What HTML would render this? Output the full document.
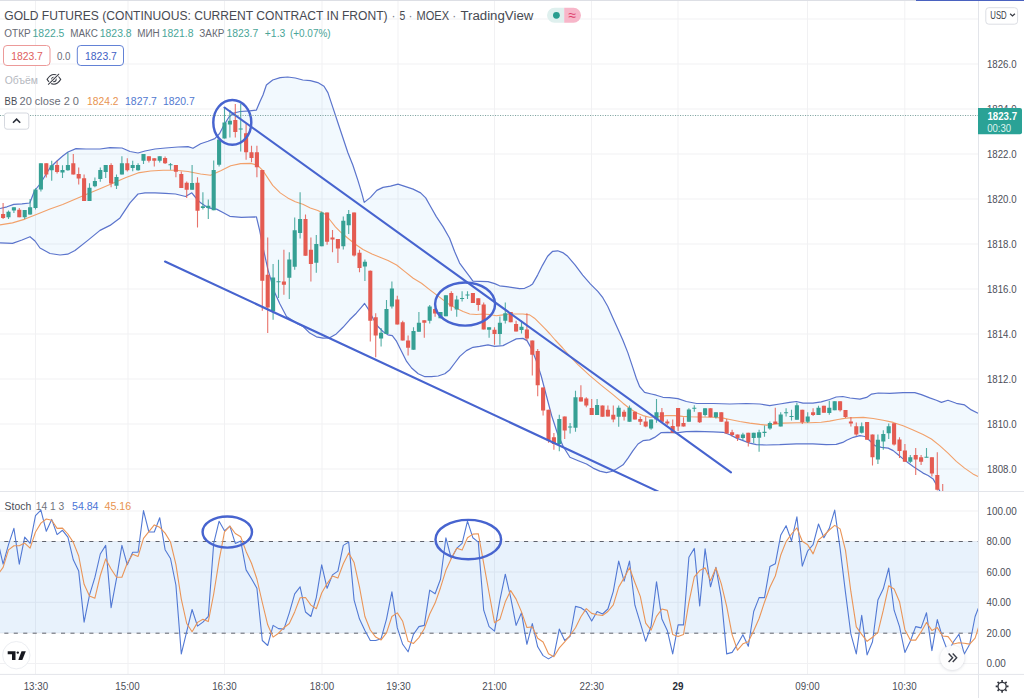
<!DOCTYPE html>
<html><head><meta charset="utf-8"><title>GOLD FUTURES chart</title>
<style>html,body{margin:0;padding:0;background:#fff}body{width:1024px;height:698px;overflow:hidden}</style></head>
<body>
<svg width="1024" height="698" viewBox="0 0 1024 698" style="display:block;font-family:'Liberation Sans',sans-serif">
<defs>
<clipPath id="cm"><rect x="0" y="0" width="978.5" height="491.5"/></clipPath>
<clipPath id="cs"><rect x="0" y="492" width="978.5" height="182.39999999999998"/></clipPath>
<filter id="sh" x="-50%" y="-50%" width="200%" height="200%"><feGaussianBlur stdDeviation="1.6"/></filter>
</defs>
<rect width="1024" height="698" fill="#fff"/>
<path d="M35.5 0V674.4M128 0V674.4M224.5 0V674.4M322 0V674.4M398 0V674.4M494.5 0V674.4M591.5 0V674.4M678 0V674.4M807.5 0V674.4M904.8 0V674.4M0 19H978.5M0 64H978.5M0 109H978.5M0 154H978.5M0 199H978.5M0 244H978.5M0 289H978.5M0 334H978.5M0 379H978.5M0 424H978.5M0 469H978.5M0 511H978.5M0 541.5H978.5M0 572H978.5M0 602.3H978.5M0 633H978.5M0 663.5H978.5" stroke="#f1f1f3" stroke-width="1" fill="none"/>
<g clip-path="url(#cm)">
<polygon points="0.0,208.5 7.0,206.8 13.8,204.4 22.0,203.8 29.8,203.0 34.4,191.0 40.0,184.0 50.0,167.7 57.0,161.0 62.7,156.0 68.0,152.0 76.0,148.6 86.0,149.0 100.0,149.0 110.0,147.6 122.0,148.0 130.0,151.5 138.0,153.0 145.0,151.0 155.0,149.0 165.5,148.0 178.0,147.0 188.0,146.6 193.0,148.3 200.6,143.8 208.0,141.3 214.8,138.6 219.6,133.5 224.0,125.0 229.0,117.0 234.0,113.0 240.0,111.5 249.7,110.8 256.4,110.1 260.0,101.5 263.0,95.0 266.4,85.0 272.7,80.0 280.2,77.6 287.7,77.0 295.3,78.0 302.8,80.0 310.3,80.6 317.8,82.6 324.0,86.3 327.9,92.6 332.9,107.6 337.9,122.7 342.9,137.7 347.9,152.8 352.9,165.3 357.9,180.4 361.7,192.9 364.2,202.4 370.5,197.4 376.8,190.4 383.0,187.4 390.5,186.1 398.0,184.1 405.6,186.6 413.1,189.1 420.6,192.9 425.7,197.9 430.7,206.7 436.3,216.6 443.0,226.6 449.6,238.2 454.6,251.5 459.6,263.1 464.6,269.8 469.5,276.4 472.9,281.2 479.7,281.3 488.0,281.6 494.7,283.6 499.6,285.8 506.3,286.6 512.9,287.6 519.6,288.7 524.6,288.3 529.6,286.0 532.6,283.9 537.6,275.1 542.6,265.1 547.6,256.3 552.7,251.3 557.7,250.8 562.7,252.6 567.7,256.3 575.2,265.1 582.7,275.1 590.3,283.9 597.8,291.4 602.8,297.7 607.8,306.5 612.8,317.7 617.9,329.0 622.9,340.3 627.9,352.9 632.9,367.9 636.3,378.2 639.6,386.5 644.6,392.3 651.3,394.0 656.3,395.2 662.9,397.3 669.5,397.6 677.9,398.6 686.4,401.5 696.6,403.5 713.2,403.5 729.9,404.0 746.5,403.5 759.8,404.0 769.7,405.7 779.7,404.0 789.7,402.3 796.3,401.5 803.0,403.2 812.9,403.2 821.2,401.8 829.6,399.5 836.2,397.0 842.8,396.5 850.0,398.0 859.9,399.1 866.6,397.4 871.6,394.1 878.2,393.0 889.8,393.3 903.1,392.6 914.8,392.6 921.4,394.6 929.7,397.9 936.4,400.3 941.4,402.4 948.0,400.3 956.3,403.3 964.6,404.9 971.3,409.9 978.0,413.2 978.0,520.0 950.0,505.0 940.5,492.5 937.2,486.3 933.1,478.9 928.1,475.5 923.1,473.1 918.1,469.7 913.1,466.4 908.1,462.8 903.1,458.9 898.2,454.8 893.2,450.6 888.2,448.1 881.5,447.3 874.9,445.6 869.9,440.7 864.9,436.5 859.9,435.7 853.3,437.3 846.6,440.2 842.8,442.4 836.2,444.4 826.2,444.7 812.9,443.9 796.3,443.9 779.7,444.7 766.4,445.0 756.4,444.7 749.8,443.1 743.1,440.6 736.5,438.1 729.9,434.7 723.2,432.3 713.2,431.8 696.2,431.3 686.2,431.7 676.2,432.9 667.9,432.4 661.3,432.6 654.6,437.4 649.6,439.9 643.0,440.7 638.0,444.0 633.0,450.7 628.0,458.2 623.1,464.8 616.4,469.0 611.4,471.5 606.4,472.6 599.8,471.1 593.1,468.1 586.5,464.0 578.2,460.7 569.9,457.3 563.2,446.5 557.4,433.2 551.6,415.5 546.6,396.5 541.2,376.0 536.2,360.5 531.2,348.1 527.0,340.6 522.9,338.4 516.3,338.9 509.6,342.3 503.0,345.6 494.7,346.4 488.0,344.8 479.7,346.4 473.0,347.3 466.4,350.6 459.8,356.4 454.8,363.0 449.8,369.7 444.8,373.8 438.2,376.0 431.5,376.7 424.9,376.7 418.2,373.8 411.6,368.0 406.6,361.4 401.6,351.4 396.6,341.4 392.3,335.6 387.9,334.8 382.9,331.5 377.9,326.5 372.9,318.2 368.8,309.8 364.6,303.5 361.3,307.4 356.3,313.2 349.6,319.8 343.0,327.3 336.3,333.9 329.7,337.8 323.0,338.1 316.4,336.8 309.8,333.1 303.1,326.5 296.5,323.1 286.5,316.5 279.8,303.8 274.7,292.5 268.0,269.8 263.9,251.5 259.7,230.7 256.4,216.9 241.4,217.4 229.8,216.3 222.0,212.0 216.5,209.1 208.0,207.8 200.6,202.8 196.0,198.0 191.8,192.8 185.6,196.5 175.5,194.0 165.5,193.3 155.0,192.8 145.0,192.8 138.0,194.0 130.0,202.8 120.0,217.9 110.0,225.4 100.0,230.4 87.8,240.4 75.0,250.5 67.7,254.2 60.0,255.0 50.0,253.5 40.0,248.0 35.0,241.0 30.0,236.7 22.0,240.0 12.5,243.4 0.0,242.9" fill="#2196f3" fill-opacity="0.06"/>
<polyline points="0.0,224.9 12.5,222.9 25.0,219.1 37.6,214.1 50.0,209.1 62.7,204.6 75.0,199.2 87.8,193.8 100.0,188.8 112.8,183.3 125.4,177.7 138.0,172.9 150.5,171.0 163.0,170.2 175.5,170.2 188.0,171.5 200.6,174.0 210.6,175.2 220.7,170.8 230.7,165.8 240.7,163.6 250.8,163.4 257.6,165.3 262.7,170.3 267.7,177.9 272.7,185.4 280.2,192.9 287.7,197.9 295.3,201.7 302.8,204.2 310.3,207.9 317.8,210.5 325.3,214.2 330.4,220.5 335.4,226.8 340.4,231.8 347.0,237.5 355.0,244.0 363.0,249.5 372.0,254.0 380.0,257.3 388.0,260.5 396.6,265.0 404.9,271.6 413.2,278.3 421.5,283.3 429.9,289.9 436.5,294.9 443.1,299.9 449.8,304.9 456.4,308.2 463.1,311.5 469.7,314.0 476.4,314.5 483.0,314.0 489.7,314.5 496.3,315.7 503.0,314.9 509.6,314.0 516.3,314.0 522.9,314.0 529.6,314.9 534.5,318.2 539.5,323.2 544.5,328.1 550.0,334.0 555.2,340.0 562.7,348.0 570.2,356.5 578.2,364.9 589.8,375.6 601.4,385.3 613.0,394.6 623.0,403.2 629.7,408.5 636.3,412.8 643.0,415.6 649.6,417.3 657.9,416.8 666.2,415.6 674.5,415.6 682.8,416.4 690.0,416.8 699.9,417.0 713.2,417.3 723.2,418.1 729.9,419.5 739.8,421.5 749.8,423.1 759.8,424.4 766.4,425.1 773.1,424.4 783.0,423.1 796.3,422.8 809.6,422.8 821.2,422.3 829.6,421.1 837.9,419.5 846.2,418.1 850.0,417.9 863.3,417.4 873.2,418.5 883.2,420.2 893.2,422.4 903.1,425.7 913.1,429.9 923.1,434.5 931.4,439.0 939.7,445.6 948.0,453.1 956.3,461.4 964.6,468.1 972.9,473.9 978.0,476.4" fill="none" stroke="#f2a16b" stroke-width="1.1" stroke-linejoin="round"/>
<polyline points="0.0,208.5 7.0,206.8 13.8,204.4 22.0,203.8 29.8,203.0 34.4,191.0 40.0,184.0 50.0,167.7 57.0,161.0 62.7,156.0 68.0,152.0 76.0,148.6 86.0,149.0 100.0,149.0 110.0,147.6 122.0,148.0 130.0,151.5 138.0,153.0 145.0,151.0 155.0,149.0 165.5,148.0 178.0,147.0 188.0,146.6 193.0,148.3 200.6,143.8 208.0,141.3 214.8,138.6 219.6,133.5 224.0,125.0 229.0,117.0 234.0,113.0 240.0,111.5 249.7,110.8 256.4,110.1 260.0,101.5 263.0,95.0 266.4,85.0 272.7,80.0 280.2,77.6 287.7,77.0 295.3,78.0 302.8,80.0 310.3,80.6 317.8,82.6 324.0,86.3 327.9,92.6 332.9,107.6 337.9,122.7 342.9,137.7 347.9,152.8 352.9,165.3 357.9,180.4 361.7,192.9 364.2,202.4 370.5,197.4 376.8,190.4 383.0,187.4 390.5,186.1 398.0,184.1 405.6,186.6 413.1,189.1 420.6,192.9 425.7,197.9 430.7,206.7 436.3,216.6 443.0,226.6 449.6,238.2 454.6,251.5 459.6,263.1 464.6,269.8 469.5,276.4 472.9,281.2 479.7,281.3 488.0,281.6 494.7,283.6 499.6,285.8 506.3,286.6 512.9,287.6 519.6,288.7 524.6,288.3 529.6,286.0 532.6,283.9 537.6,275.1 542.6,265.1 547.6,256.3 552.7,251.3 557.7,250.8 562.7,252.6 567.7,256.3 575.2,265.1 582.7,275.1 590.3,283.9 597.8,291.4 602.8,297.7 607.8,306.5 612.8,317.7 617.9,329.0 622.9,340.3 627.9,352.9 632.9,367.9 636.3,378.2 639.6,386.5 644.6,392.3 651.3,394.0 656.3,395.2 662.9,397.3 669.5,397.6 677.9,398.6 686.4,401.5 696.6,403.5 713.2,403.5 729.9,404.0 746.5,403.5 759.8,404.0 769.7,405.7 779.7,404.0 789.7,402.3 796.3,401.5 803.0,403.2 812.9,403.2 821.2,401.8 829.6,399.5 836.2,397.0 842.8,396.5 850.0,398.0 859.9,399.1 866.6,397.4 871.6,394.1 878.2,393.0 889.8,393.3 903.1,392.6 914.8,392.6 921.4,394.6 929.7,397.9 936.4,400.3 941.4,402.4 948.0,400.3 956.3,403.3 964.6,404.9 971.3,409.9 978.0,413.2" fill="none" stroke="#5b74cc" stroke-width="1.2" stroke-linejoin="round"/>
<polyline points="0.0,242.9 12.5,243.4 22.0,240.0 30.0,236.7 35.0,241.0 40.0,248.0 50.0,253.5 60.0,255.0 67.7,254.2 75.0,250.5 87.8,240.4 100.0,230.4 110.0,225.4 120.0,217.9 130.0,202.8 138.0,194.0 145.0,192.8 155.0,192.8 165.5,193.3 175.5,194.0 185.6,196.5 191.8,192.8 196.0,198.0 200.6,202.8 208.0,207.8 216.5,209.1 222.0,212.0 229.8,216.3 241.4,217.4 256.4,216.9 259.7,230.7 263.9,251.5 268.0,269.8 274.7,292.5 279.8,303.8 286.5,316.5 296.5,323.1 303.1,326.5 309.8,333.1 316.4,336.8 323.0,338.1 329.7,337.8 336.3,333.9 343.0,327.3 349.6,319.8 356.3,313.2 361.3,307.4 364.6,303.5 368.8,309.8 372.9,318.2 377.9,326.5 382.9,331.5 387.9,334.8 392.3,335.6 396.6,341.4 401.6,351.4 406.6,361.4 411.6,368.0 418.2,373.8 424.9,376.7 431.5,376.7 438.2,376.0 444.8,373.8 449.8,369.7 454.8,363.0 459.8,356.4 466.4,350.6 473.0,347.3 479.7,346.4 488.0,344.8 494.7,346.4 503.0,345.6 509.6,342.3 516.3,338.9 522.9,338.4 527.0,340.6 531.2,348.1 536.2,360.5 541.2,376.0 546.6,396.5 551.6,415.5 557.4,433.2 563.2,446.5 569.9,457.3 578.2,460.7 586.5,464.0 593.1,468.1 599.8,471.1 606.4,472.6 611.4,471.5 616.4,469.0 623.1,464.8 628.0,458.2 633.0,450.7 638.0,444.0 643.0,440.7 649.6,439.9 654.6,437.4 661.3,432.6 667.9,432.4 676.2,432.9 686.2,431.7 696.2,431.3 713.2,431.8 723.2,432.3 729.9,434.7 736.5,438.1 743.1,440.6 749.8,443.1 756.4,444.7 766.4,445.0 779.7,444.7 796.3,443.9 812.9,443.9 826.2,444.7 836.2,444.4 842.8,442.4 846.6,440.2 853.3,437.3 859.9,435.7 864.9,436.5 869.9,440.7 874.9,445.6 881.5,447.3 888.2,448.1 893.2,450.6 898.2,454.8 903.1,458.9 908.1,462.8 913.1,466.4 918.1,469.7 923.1,473.1 928.1,475.5 933.1,478.9 937.2,486.3 940.5,492.5 950.0,505.0 978.0,520.0" fill="none" stroke="#5b74cc" stroke-width="1.2" stroke-linejoin="round"/>
<path d="M8.5 210.6V218.9M13.9 207.3V213.1M24.7 210.1V218.9M30.1 199.0V214.7M35.5 188.2V209.4M40.9 163.2V191.5M51.7 160.7V180.7M62.5 165.2V177.9M67.9 152.4V170.7M89.5 183.2V201.1M94.9 177.4V187.3M100.3 167.4V181.8M105.7 164.9V177.9M116.5 174.5V189.0M121.9 156.3V174.5M132.7 160.7V171.2M138.1 163.2V170.7M143.5 154.1V164.1M159.7 156.3V162.4M170.5 163.1V169.8M192.1 165.1V189.7M202.9 192.2V209.6M208.3 199.4V219.1M213.7 160.6V210.3M219.1 139.5V166.5M224.5 107.5V138.5M229.9 110.0V137.4M240.7 104.1V151.5M273.1 264.0V319.8M278.5 259.8V298.0M289.3 252.3V298.9M294.7 217.4V269.8M300.1 192.2V238.5M316.3 234.9V272.8M321.7 211.6V246.2M343.3 216.6V249.5M348.7 209.9V234.0M364.9 259.5V281.1M381.1 328.1V346.4M386.5 299.9V334.0M391.9 281.6V308.5M413.5 327.3V349.7M418.9 311.9V331.8M429.7 304.9V323.5M440.5 311.9V318.2M445.9 295.2V316.2M456.7 295.7V316.8M462.1 291.3V301.6M467.5 291.3V299.1M489.1 327.3V337.8M499.9 316.5V344.8M505.3 302.4V323.5M521.5 320.7V333.5M559.3 414.8V451.3M570.1 423.1V433.4M575.5 390.7V431.7M597.1 399.0V415.1M618.7 405.6V426.7M629.5 405.6V421.8M651.1 419.4V429.7M656.5 399.0V422.8M688.9 408.2V421.8M694.3 405.2V411.8M705.1 408.2V416.5M715.9 412.3V418.5M742.9 432.8V440.1M753.7 432.8V443.1M759.1 429.8V451.7M764.5 425.6V436.7M769.9 421.5V429.8M780.7 412.3V426.4M786.1 408.2V416.5M791.5 409.8V420.6M796.9 402.8V419.8M807.7 412.3V423.1M818.5 405.7V415.1M829.3 400.7V414.8M834.7 401.2V410.2M861.7 422.4V433.5M877.9 434.5V463.9M883.3 430.2V449.8M888.7 423.5V439.0M910.3 455.1V463.1M926.5 448.1V457.6" stroke="#36a094" stroke-width="1.1" stroke-opacity="0.85" fill="none"/>
<path d="M3.1 203.1V218.9M19.3 208.1V217.2M46.3 163.2V177.4M57.1 160.7V173.5M73.3 154.1V174.5M78.7 167.4V184.5M84.1 174.5V201.1M111.1 163.2V187.3M127.3 158.2V171.5M148.9 156.3V162.4M154.3 158.2V166.6M165.1 156.6V164.1M175.9 165.1V177.3M181.3 171.4V188.1M186.7 181.4V198.0M197.5 177.3V227.4M235.3 104.1V137.4M246.1 124.1V159.8M251.5 145.7V162.3M256.9 145.7V177.3M262.3 170.1V310.7M267.7 237.4V333.1M283.9 249.8V294.7M305.5 214.6V255.7M310.9 237.4V281.4M327.1 212.4V244.8M332.5 229.9V252.3M337.9 239.0V263.1M354.1 212.4V256.5M359.5 249.8V272.3M370.3 270.6V341.4M375.7 313.2V357.2M397.3 295.7V324.5M402.7 320.7V340.6M408.1 335.6V355.6M424.3 320.2V337.8M435.1 308.5V316.8M451.3 291.3V310.7M472.9 292.9V302.9M478.3 298.2V310.7M483.7 302.4V329.5M494.5 327.3V344.8M510.7 311.9V322.3M516.1 320.7V331.5M526.9 313.2V340.6M532.3 340.6V375.5M537.7 348.9V396.2M543.1 387.4V415.6M548.5 409.8V442.7M553.9 433.1V449.7M564.7 416.4V438.9M580.9 385.2V401.5M586.3 397.3V407.3M591.7 399.0V415.1M602.5 405.6V416.8M607.9 405.6V416.4M613.3 405.6V422.3M624.1 409.8V420.6M634.9 411.8V419.4M640.3 416.4V425.1M645.7 416.8V427.2M661.9 408.1V421.8M667.3 419.4V425.1M672.7 419.4V432.7M678.1 408.1V431.1M683.5 417.3V426.4M699.7 412.3V423.1M710.5 408.2V417.3M721.3 412.3V421.8M726.7 419.0V433.4M732.1 429.8V436.4M737.5 434.4V441.1M748.3 432.8V446.4M775.3 407.8V423.9M802.3 409.8V423.9M813.1 408.2V416.1M823.9 405.7V412.8M840.1 401.2V411.5M845.5 409.9V417.9M850.9 416.9V426.5M856.3 422.4V435.7M867.1 421.9V439.8M872.5 434.5V465.6M894.1 423.2V445.6M899.5 437.3V458.1M904.9 444.0V461.8M915.7 448.1V475.0M921.1 455.1V465.1M931.9 457.3V476.4M937.3 452.3V490.5M942.7 484.0V500.0" stroke="#e45b51" stroke-width="1.1" stroke-opacity="0.85" fill="none"/>
<path d="M6.45 211.8h4.1V217.2h-4.1zM11.85 207.3h4.1V210.6h-4.1zM22.65 210.1h4.1V217.2h-4.1zM28.05 207.3h4.1V214.4h-4.1zM33.45 189.5h4.1V208.1h-4.1zM38.85 163.2h4.1V189.5h-4.1zM49.65 165.2h4.1V170.2h-4.1zM60.45 169.9h4.1V172.4h-4.1zM65.85 164.9h4.1V170.2h-4.1zM87.45 187.8h4.1V201.1h-4.1zM92.85 181.0h4.1V186.2h-4.1zM98.25 169.9h4.1V179.0h-4.1zM103.65 164.9h4.1V171.9h-4.1zM114.45 176.9h4.1V185.7h-4.1zM119.85 163.2h4.1V174.5h-4.1zM130.65 164.9h4.1V167.9h-4.1zM136.05 164.9h4.1V170.2h-4.1zM141.45 154.1h4.1V160.7h-4.1zM157.65 156.3h4.1V160.7h-4.1zM168.45 164.3h4.1V165.3h-4.1zM190.05 183.1h4.1V189.7h-4.1zM200.85 206.3h4.1V208.0h-4.1zM206.25 205.8h4.1V208.0h-4.1zM211.65 170.1h4.1V210.3h-4.1zM217.05 139.5h4.1V164.8h-4.1zM222.45 122.4h4.1V138.5h-4.1zM227.85 120.8h4.1V124.6h-4.1zM238.65 128.6h4.1V129.6h-4.1zM271.05 277.4h4.1V311.5h-4.1zM276.45 281.3h4.1V282.3h-4.1zM287.25 259.5h4.1V277.8h-4.1zM292.65 230.2h4.1V266.8h-4.1zM298.05 219.1h4.1V232.9h-4.1zM314.25 244.0h4.1V262.8h-4.1zM319.65 212.4h4.1V246.2h-4.1zM341.25 220.7h4.1V246.2h-4.1zM346.65 214.1h4.1V225.2h-4.1zM362.85 261.8h4.1V266.4h-4.1zM379.05 332.8h4.1V338.4h-4.1zM384.45 309.0h4.1V334.0h-4.1zM389.85 288.6h4.1V306.5h-4.1zM411.45 331.1h4.1V349.7h-4.1zM416.85 322.8h4.1V331.8h-4.1zM427.65 306.5h4.1V320.7h-4.1zM438.45 311.9h4.1V318.2h-4.1zM443.85 295.2h4.1V316.2h-4.1zM454.65 299.6h4.1V309.5h-4.1zM460.05 297.9h4.1V299.1h-4.1zM465.45 294.6h4.1V295.6h-4.1zM487.05 327.3h4.1V329.8h-4.1zM497.85 322.8h4.1V334.0h-4.1zM503.25 313.2h4.1V320.7h-4.1zM519.45 326.8h4.1V330.1h-4.1zM557.25 418.9h4.1V443.9h-4.1zM568.05 426.4h4.1V427.4h-4.1zM573.45 397.3h4.1V427.7h-4.1zM595.05 405.1h4.1V415.1h-4.1zM616.65 407.8h4.1V416.8h-4.1zM627.45 407.8h4.1V421.8h-4.1zM649.05 419.4h4.1V428.4h-4.1zM654.45 412.3h4.1V419.4h-4.1zM686.85 409.5h4.1V421.8h-4.1zM692.25 407.8h4.1V408.8h-4.1zM703.05 408.2h4.1V415.1h-4.1zM713.85 412.3h4.1V417.3h-4.1zM740.85 434.4h4.1V438.1h-4.1zM751.65 432.8h4.1V438.1h-4.1zM757.05 432.3h4.1V437.7h-4.1zM762.45 431.8h4.1V433.1h-4.1zM767.85 423.1h4.1V428.4h-4.1zM778.65 414.5h4.1V426.4h-4.1zM784.05 412.3h4.1V413.3h-4.1zM789.45 416.1h4.1V417.1h-4.1zM794.85 405.2h4.1V419.8h-4.1zM805.65 416.5h4.1V421.8h-4.1zM816.45 407.8h4.1V415.1h-4.1zM827.25 407.8h4.1V413.1h-4.1zM832.65 401.2h4.1V410.2h-4.1zM859.65 426.2h4.1V432.8h-4.1zM875.85 439.8h4.1V459.4h-4.1zM881.25 434.0h4.1V441.5h-4.1zM886.65 426.2h4.1V433.2h-4.1zM908.25 457.3h4.1V461.8h-4.1zM924.45 456.7h4.1V457.7h-4.1z" fill="#36a094"/>
<path d="M1.05 213.9h4.1V218.1h-4.1zM17.25 209.8h4.1V217.2h-4.1zM44.25 163.2h4.1V174.5h-4.1zM55.05 164.9h4.1V171.9h-4.1zM71.25 163.2h4.1V174.5h-4.1zM76.65 174.0h4.1V178.5h-4.1zM82.05 178.2h4.1V201.1h-4.1zM109.05 164.9h4.1V183.5h-4.1zM125.25 163.2h4.1V170.2h-4.1zM146.85 156.3h4.1V160.7h-4.1zM152.25 158.2h4.1V160.7h-4.1zM163.05 157.9h4.1V163.2h-4.1zM173.85 165.1h4.1V171.8h-4.1zM179.25 173.9h4.1V188.1h-4.1zM184.65 182.7h4.1V189.7h-4.1zM195.45 182.7h4.1V210.8h-4.1zM233.25 119.9h4.1V131.9h-4.1zM244.05 133.2h4.1V152.3h-4.1zM249.45 152.3h4.1V158.1h-4.1zM254.85 152.3h4.1V167.3h-4.1zM260.25 170.1h4.1V280.8h-4.1zM265.65 274.8h4.1V307.4h-4.1zM281.85 281.4h4.1V284.7h-4.1zM303.45 219.1h4.1V255.7h-4.1zM308.85 249.8h4.1V264.0h-4.1zM325.05 212.4h4.1V241.8h-4.1zM330.45 237.4h4.1V239.4h-4.1zM335.85 239.0h4.1V248.5h-4.1zM352.05 212.4h4.1V255.6h-4.1zM357.45 252.8h4.1V268.1h-4.1zM368.25 270.8h4.1V320.7h-4.1zM373.65 317.3h4.1V335.6h-4.1zM395.25 299.6h4.1V324.5h-4.1zM400.65 322.3h4.1V340.6h-4.1zM406.05 340.6h4.1V347.8h-4.1zM422.25 320.2h4.1V322.8h-4.1zM433.05 309.0h4.1V313.5h-4.1zM449.25 292.9h4.1V306.5h-4.1zM470.85 292.9h4.1V302.9h-4.1zM476.25 298.2h4.1V304.9h-4.1zM481.65 304.5h4.1V329.5h-4.1zM492.45 329.8h4.1V334.0h-4.1zM508.65 311.9h4.1V322.3h-4.1zM514.05 324.0h4.1V331.5h-4.1zM524.85 329.5h4.1V338.4h-4.1zM530.25 340.6h4.1V354.7h-4.1zM535.65 351.0h4.1V385.2h-4.1zM541.05 387.4h4.1V410.6h-4.1zM546.45 409.8h4.1V440.5h-4.1zM551.85 437.2h4.1V443.9h-4.1zM562.65 416.4h4.1V430.6h-4.1zM578.85 397.3h4.1V401.5h-4.1zM584.25 398.5h4.1V405.6h-4.1zM589.65 408.1h4.1V415.1h-4.1zM600.45 405.6h4.1V416.8h-4.1zM605.85 409.8h4.1V416.4h-4.1zM611.25 414.8h4.1V419.4h-4.1zM622.05 411.8h4.1V416.8h-4.1zM632.85 411.8h4.1V419.4h-4.1zM638.25 418.9h4.1V421.8h-4.1zM643.65 421.4h4.1V426.4h-4.1zM659.85 412.3h4.1V421.8h-4.1zM665.25 421.4h4.1V423.4h-4.1zM670.65 426.1h4.1V432.7h-4.1zM676.05 408.1h4.1V426.4h-4.1zM681.45 423.1h4.1V426.4h-4.1zM697.65 412.3h4.1V422.3h-4.1zM708.45 408.2h4.1V417.3h-4.1zM719.25 412.3h4.1V421.8h-4.1zM724.65 421.5h4.1V433.4h-4.1zM730.05 432.3h4.1V435.1h-4.1zM735.45 434.4h4.1V438.1h-4.1zM746.25 432.8h4.1V442.2h-4.1zM773.25 421.5h4.1V423.9h-4.1zM800.25 409.8h4.1V422.3h-4.1zM811.05 412.3h4.1V415.1h-4.1zM821.85 405.7h4.1V412.8h-4.1zM838.05 401.2h4.1V410.2h-4.1zM843.45 409.9h4.1V416.9h-4.1zM848.85 421.5h4.1V423.5h-4.1zM854.25 426.2h4.1V434.5h-4.1zM865.05 421.9h4.1V439.8h-4.1zM870.45 434.5h4.1V457.3h-4.1zM892.05 423.2h4.1V444.5h-4.1zM897.45 439.5h4.1V451.1h-4.1zM902.85 450.6h4.1V461.8h-4.1zM913.65 455.1h4.1V459.4h-4.1zM919.05 457.3h4.1V461.8h-4.1zM929.85 457.3h4.1V473.4h-4.1zM935.25 475.0h4.1V489.7h-4.1zM940.65 499.5h4.1V500.5h-4.1z" fill="#e45b51"/>
<g fill="none" stroke="#4764cf" stroke-width="2.1" stroke-linecap="round">
<line x1="224.5" y1="107.5" x2="731" y2="472.3"/>
<line x1="165" y1="261.5" x2="660" y2="492.4"/>
<ellipse cx="232.3" cy="122.4" rx="19" ry="22.4" stroke-width="2.45"/>
<ellipse cx="465.1" cy="304" rx="30" ry="21.6" stroke-width="2.45"/>
</g>
</g>
<line x1="0" y1="115.5" x2="978.5" y2="115.5" stroke="#5f8f8a" stroke-opacity="0.8" stroke-width="1" stroke-dasharray="1.1 1.4"/>
<g clip-path="url(#cs)">
<rect x="0" y="541.5" width="978.5" height="91.6" fill="#1f80e2" fill-opacity="0.10"/>
<path d="M0 541.5H978.5M0 633.2H978.5" stroke="#60636d" stroke-width="1" stroke-dasharray="4.1 5.35" stroke-dashoffset="5.15" fill="none"/>
<polyline points="-2.3,540.9 3.1,564.1 8.5,544.7 13.9,528.3 19.3,564.1 24.7,537.1 30.1,543.4 35.5,515.7 40.9,510.1 46.3,531.3 51.7,519.4 57.1,534.6 62.5,530.3 67.9,537.1 73.3,559.8 78.7,571.1 84.1,622.1 89.5,595.1 94.9,577.4 100.3,554.0 105.7,545.4 111.1,607.7 116.5,578.7 121.9,545.4 127.3,564.8 132.7,552.2 138.1,552.2 143.5,510.6 148.9,532.0 154.3,532.0 159.7,517.7 165.1,549.7 170.5,558.5 175.9,585.0 181.3,653.9 186.7,631.7 192.1,609.5 197.5,626.1 202.9,622.1 208.3,616.5 213.7,543.4 219.1,521.2 224.5,530.8 229.9,526.2 235.3,543.4 240.7,540.9 246.1,569.9 251.5,578.7 256.9,588.3 262.3,640.5 267.7,645.5 273.1,625.4 278.5,628.6 283.9,629.1 289.3,612.8 294.7,593.8 300.1,586.8 305.5,612.0 310.9,616.5 316.3,597.6 321.7,564.8 327.1,588.3 332.5,574.9 337.9,571.1 343.3,545.4 348.7,542.1 354.1,600.1 359.5,619.1 364.9,630.4 370.3,640.5 375.7,640.5 381.1,638.7 386.5,619.1 391.9,591.8 397.3,627.9 402.7,644.3 408.1,651.8 413.5,634.2 418.9,626.6 424.3,625.4 429.7,590.1 435.1,593.8 440.5,579.2 445.9,537.8 451.3,558.5 456.7,548.4 462.1,543.4 467.5,521.2 472.9,537.8 478.3,542.1 483.7,610.2 489.1,626.6 494.5,631.2 499.9,600.1 505.3,574.2 510.7,597.6 516.1,625.4 521.5,612.8 526.9,644.3 532.3,623.6 537.7,646.8 543.1,655.6 548.5,658.9 553.9,655.6 559.3,629.1 564.7,640.5 570.1,636.2 575.5,606.4 580.9,607.7 586.3,611.5 591.7,621.1 597.1,611.5 602.5,614.0 607.9,609.0 613.3,591.3 618.7,561.1 624.1,581.2 629.5,561.1 634.9,605.2 640.3,622.8 645.7,641.3 651.1,626.1 656.5,581.7 661.9,619.1 667.3,630.4 672.7,653.9 678.1,624.9 683.5,624.9 688.9,557.3 694.3,548.4 699.7,605.9 705.1,548.9 710.5,586.8 715.9,567.4 721.3,597.6 726.7,653.9 732.1,652.4 737.5,644.3 742.9,634.7 748.3,646.3 753.7,611.5 759.1,597.6 764.5,597.6 769.9,566.6 775.3,563.8 780.7,535.3 786.1,525.7 791.5,540.9 796.9,516.9 802.3,566.1 807.7,551.0 813.1,544.7 818.5,524.0 823.9,537.8 829.3,528.3 834.7,510.1 840.1,548.4 845.5,592.6 850.9,634.2 856.3,653.9 861.7,615.3 867.1,654.9 872.5,641.8 877.9,600.1 883.3,588.8 888.7,568.1 894.1,610.2 899.5,626.6 904.9,652.4 910.3,641.3 915.7,626.6 921.1,627.9 926.5,612.8 931.9,650.6 937.3,619.6 942.7,638.0 948.1,652.4 953.5,641.8 958.9,634.2 964.3,653.9 969.7,644.3 975.1,616.5 980.5,602.7" fill="none" stroke="#5279d4" stroke-width="1.1" stroke-linejoin="round"/>
<polyline points="-2.3,574.8 3.1,567.4 8.5,549.9 13.9,545.7 19.3,545.7 24.7,543.1 30.1,548.2 35.5,532.0 40.9,523.1 46.3,519.0 51.7,520.3 57.1,528.4 62.5,528.1 67.9,534.0 73.3,542.4 78.7,556.0 84.1,584.3 89.5,596.1 94.9,598.2 100.3,575.5 105.7,558.9 111.1,569.0 116.5,577.3 121.9,577.3 127.3,563.0 132.7,554.2 138.1,556.4 143.5,538.4 148.9,531.6 154.3,524.9 159.7,527.3 165.1,533.1 170.5,542.0 175.9,564.4 181.3,599.1 186.7,623.5 192.1,631.7 197.5,622.4 202.9,619.2 208.3,621.6 213.7,594.0 219.1,560.4 224.5,531.8 229.9,526.1 235.3,533.5 240.7,536.8 246.1,551.4 251.5,563.2 256.9,579.0 262.3,602.5 267.7,624.8 273.1,637.1 278.5,633.2 283.9,627.7 289.3,623.5 294.7,611.9 300.1,597.8 305.5,597.5 310.9,605.1 316.3,608.7 321.7,593.0 327.1,583.6 332.5,576.0 337.9,578.1 343.3,563.8 348.7,552.9 354.1,562.6 359.5,587.1 364.9,616.5 370.3,630.0 375.7,637.1 381.1,639.9 386.5,632.8 391.9,616.5 397.3,612.9 402.7,621.3 408.1,641.3 413.5,643.4 418.9,637.6 424.3,628.7 429.7,614.0 435.1,603.1 440.5,587.7 445.9,570.3 451.3,558.5 456.7,548.3 462.1,550.1 467.5,537.7 472.9,534.1 478.3,533.7 483.7,563.4 489.1,593.0 494.5,622.7 499.9,619.3 505.3,601.8 510.7,590.6 516.1,599.1 521.5,611.9 526.9,627.5 532.3,626.9 537.7,638.2 543.1,642.0 548.5,653.8 553.9,656.7 559.3,647.9 564.7,641.8 570.1,635.3 575.5,627.7 580.9,616.8 586.3,608.6 591.7,613.4 597.1,614.7 602.5,615.5 607.9,611.5 613.3,604.8 618.7,587.1 624.1,577.9 629.5,567.8 634.9,582.5 640.3,596.4 645.7,623.1 651.1,630.1 656.5,616.4 661.9,609.0 667.3,610.4 672.7,634.4 678.1,636.4 683.5,634.5 688.9,602.3 694.3,576.9 699.7,570.6 705.1,567.8 710.5,580.6 715.9,567.7 721.3,583.9 726.7,606.3 732.1,634.6 737.5,650.2 742.9,643.8 748.3,641.8 753.7,630.8 759.1,618.5 764.5,602.2 769.9,587.3 775.3,576.0 780.7,555.3 786.1,541.6 791.5,534.0 796.9,527.8 802.3,541.3 807.7,544.7 813.1,553.9 818.5,539.9 823.9,535.5 829.3,530.0 834.7,525.4 840.1,528.9 845.5,550.4 850.9,591.7 856.3,626.9 861.7,634.4 867.1,641.3 872.5,637.3 877.9,632.3 883.3,610.2 888.7,585.7 894.1,589.0 899.5,601.7 904.9,629.7 910.3,640.1 915.7,640.1 921.1,631.9 926.5,622.4 931.9,630.4 937.3,627.6 942.7,636.0 948.1,636.6 953.5,644.0 958.9,642.8 964.3,643.3 969.7,644.1 975.1,638.2 980.5,621.2" fill="none" stroke="#ea9558" stroke-width="1.1" stroke-linejoin="round"/>
<g fill="none" stroke="#4764cf" stroke-width="2.45">
<ellipse cx="227.3" cy="532" rx="24.7" ry="15.6"/>
<ellipse cx="468.3" cy="539.6" rx="32.8" ry="19.7"/>
</g>
</g>
<path d="M0 491.5H1024M0 674.4H1024M978.5 0V698" stroke="#e3e5ea" stroke-width="1" fill="none"/>
<rect x="0" y="0" width="1024" height="1.0" fill="#dddfe5"/>
<rect x="916" y="0" width="108" height="1.0" fill="#4a62c0"/>
<text x="987" y="67.7" font-size="10.3" fill="#4b4e58" textLength="29.5" lengthAdjust="spacingAndGlyphs">1826.0</text>
<text x="987" y="112.7" font-size="10.3" fill="#4b4e58" textLength="29.5" lengthAdjust="spacingAndGlyphs">1824.0</text>
<text x="987" y="157.7" font-size="10.3" fill="#4b4e58" textLength="29.5" lengthAdjust="spacingAndGlyphs">1822.0</text>
<text x="987" y="202.7" font-size="10.3" fill="#4b4e58" textLength="29.5" lengthAdjust="spacingAndGlyphs">1820.0</text>
<text x="987" y="247.7" font-size="10.3" fill="#4b4e58" textLength="29.5" lengthAdjust="spacingAndGlyphs">1818.0</text>
<text x="987" y="292.7" font-size="10.3" fill="#4b4e58" textLength="29.5" lengthAdjust="spacingAndGlyphs">1816.0</text>
<text x="987" y="337.7" font-size="10.3" fill="#4b4e58" textLength="29.5" lengthAdjust="spacingAndGlyphs">1814.0</text>
<text x="987" y="382.7" font-size="10.3" fill="#4b4e58" textLength="29.5" lengthAdjust="spacingAndGlyphs">1812.0</text>
<text x="987" y="427.7" font-size="10.3" fill="#4b4e58" textLength="29.5" lengthAdjust="spacingAndGlyphs">1810.0</text>
<text x="987" y="472.7" font-size="10.3" fill="#4b4e58" textLength="29.5" lengthAdjust="spacingAndGlyphs">1808.0</text>
<text x="986.5" y="514.6" font-size="10.3" fill="#4b4e58" textLength="30.2" lengthAdjust="spacingAndGlyphs">100.00</text>
<text x="986.5" y="545.1400000000001" font-size="10.3" fill="#4b4e58" textLength="24.3" lengthAdjust="spacingAndGlyphs">80.00</text>
<text x="986.5" y="575.6800000000001" font-size="10.3" fill="#4b4e58" textLength="24.3" lengthAdjust="spacingAndGlyphs">60.00</text>
<text x="986.5" y="606.22" font-size="10.3" fill="#4b4e58" textLength="24.3" lengthAdjust="spacingAndGlyphs">40.00</text>
<text x="986.5" y="636.7600000000001" font-size="10.3" fill="#4b4e58" textLength="24.3" lengthAdjust="spacingAndGlyphs">20.00</text>
<text x="986.5" y="667.3000000000001" font-size="10.3" fill="#4b4e58" textLength="19.3" lengthAdjust="spacingAndGlyphs">0.00</text>
<text x="23.7" y="689.6" font-size="10.3" fill="#4b4e58" textLength="24.4" lengthAdjust="spacingAndGlyphs">13:30</text>
<text x="115.3" y="689.6" font-size="10.3" fill="#4b4e58" textLength="24.4" lengthAdjust="spacingAndGlyphs">15:00</text>
<text x="212.20000000000002" y="689.6" font-size="10.3" fill="#4b4e58" textLength="24.4" lengthAdjust="spacingAndGlyphs">16:30</text>
<text x="309.8" y="689.6" font-size="10.3" fill="#4b4e58" textLength="24.4" lengthAdjust="spacingAndGlyphs">18:00</text>
<text x="386.3" y="689.6" font-size="10.3" fill="#4b4e58" textLength="24.4" lengthAdjust="spacingAndGlyphs">19:30</text>
<text x="482.3" y="689.6" font-size="10.3" fill="#4b4e58" textLength="24.4" lengthAdjust="spacingAndGlyphs">21:00</text>
<text x="579.5999999999999" y="689.6" font-size="10.3" fill="#4b4e58" textLength="24.4" lengthAdjust="spacingAndGlyphs">22:30</text>
<text x="795.3" y="689.6" font-size="10.3" fill="#4b4e58" textLength="24.4" lengthAdjust="spacingAndGlyphs">09:00</text>
<text x="892.3" y="689.6" font-size="10.3" fill="#4b4e58" textLength="24.4" lengthAdjust="spacingAndGlyphs">10:30</text>
<text x="672.6" y="689.6" font-size="10.3" fill="#2a2e39" textLength="11" lengthAdjust="spacingAndGlyphs" font-weight="bold">29</text>
<path d="M978.0 108H1020a2 2 0 0 1 2 2V132.300a2 2 0 0 1 -2 2H978.0z" fill="#2aa296"/>
<text x="987.5" y="119.8" font-size="10.3" fill="#fff" textLength="29.5" lengthAdjust="spacingAndGlyphs" font-weight="bold">1823.7</text>
<text x="987.2" y="131.6" font-size="10.3" fill="#dcf3ef" textLength="24" lengthAdjust="spacingAndGlyphs">00:30</text>
<rect x="985.8" y="7.7" width="31.8" height="16.5" rx="3" fill="#fff" stroke="#dcdee4" stroke-width="1"/>
<text x="990.3" y="18.7" font-size="10.6" fill="#3a3d46" textLength="16.4" lengthAdjust="spacingAndGlyphs">USD</text>
<path d="M1010.100 13.700l2.400 2.200l2.400 -2.200" fill="none" stroke="#3a3d46" stroke-width="1.300"/>
<text x="4.3" y="20.1" font-size="12" fill="#474a52" textLength="383.3" lengthAdjust="spacingAndGlyphs">GOLD FUTURES (CONTINUOUS: CURRENT CONTRACT IN FRONT)</text>
<text x="391.6" y="20.1" font-size="12" fill="#787b86">·</text>
<text x="399.4" y="20.1" font-size="12" fill="#474a52" textLength="5.8" lengthAdjust="spacingAndGlyphs">5</text>
<text x="408.4" y="20.1" font-size="12" fill="#787b86">·</text>
<text x="416.5" y="20.1" font-size="12" fill="#474a52" textLength="32.5" lengthAdjust="spacingAndGlyphs">MOEX</text>
<text x="452.2" y="20.1" font-size="12" fill="#787b86">·</text>
<text x="460.4" y="20.1" font-size="12" fill="#474a52" textLength="73" lengthAdjust="spacingAndGlyphs">TradingView</text>
<path d="M554.5 7.8H564.2V22.8H554.5a7.5 7.5 0 0 1 0 -15z" fill="#dff0ee"/>
<path d="M564.2 7.8H573.5a7.5 7.5 0 0 1 0 15H564.2z" fill="#f7b6c9"/>
<circle cx="556.4" cy="15.3" r="3.4" fill="#2a9d8f"/>
<text x="572.3" y="20.2" font-size="14" fill="#dd3f6b" text-anchor="middle">≈</text>
<text x="4.3" y="36.9" font-size="10" fill="#666973" textLength="26.3" lengthAdjust="spacingAndGlyphs">ОТКР</text>
<text x="32.6" y="36.9" font-size="10.3" fill="#4aa598" textLength="31.8" lengthAdjust="spacingAndGlyphs">1822.5</text>
<text x="70.2" y="36.9" font-size="10" fill="#666973" textLength="27.6" lengthAdjust="spacingAndGlyphs">МАКС</text>
<text x="99.8" y="36.9" font-size="10.3" fill="#4aa598" textLength="31.8" lengthAdjust="spacingAndGlyphs">1823.8</text>
<text x="137.2" y="36.9" font-size="10" fill="#666973" textLength="22.5" lengthAdjust="spacingAndGlyphs">МИН</text>
<text x="161.7" y="36.9" font-size="10.3" fill="#4aa598" textLength="31.8" lengthAdjust="spacingAndGlyphs">1821.8</text>
<text x="199.3" y="36.9" font-size="10" fill="#666973" textLength="25.1" lengthAdjust="spacingAndGlyphs">ЗАКР</text>
<text x="226.4" y="36.9" font-size="10.3" fill="#4aa598" textLength="31.8" lengthAdjust="spacingAndGlyphs">1823.7</text>
<text x="264.8" y="36.9" font-size="10.3" fill="#4aa598" textLength="20.5" lengthAdjust="spacingAndGlyphs">+1.3</text>
<text x="289.9" y="36.9" font-size="10.3" fill="#4aa598" textLength="40.8" lengthAdjust="spacingAndGlyphs">(+0.07%)</text>
<rect x="3.5" y="45.5" width="46.5" height="20" rx="3.5" fill="#fff" stroke="#ec9a99" stroke-width="1"/>
<text x="11.2" y="60.0" font-size="10.3" fill="#e0605e" textLength="31.7" lengthAdjust="spacingAndGlyphs">1823.7</text>
<text x="56.9" y="60.0" font-size="10.3" fill="#6a6d78" textLength="13.6" lengthAdjust="spacingAndGlyphs">0.0</text>
<rect x="77.3" y="45.5" width="46.2" height="20" rx="3.5" fill="#fff" stroke="#6382d6" stroke-width="1"/>
<text x="85.1" y="60.0" font-size="10.3" fill="#3f5fc4" textLength="31.7" lengthAdjust="spacingAndGlyphs">1823.7</text>
<text x="4.8" y="84.1" font-size="10.3" fill="#b5b8c0" textLength="33" lengthAdjust="spacingAndGlyphs">Объём</text>
<g fill="none" stroke="#3a3d46" stroke-width="1.05" stroke-linecap="round"><path d="M47.1 79.4C49.4 75.7 51.7 74.5 53.9 74.5S58.4 75.7 60.7 79.4C58.4 83.1 56.1 84.3 53.9 84.3S49.4 83.100 47.100 79.400z"/><circle cx="53.9" cy="79.400" r="2.2"/><path d="M48.400 84.300L58.800 74.200" stroke="#fff" stroke-width="2.7" stroke-linecap="butt"/><path d="M48.400 84.300L58.800 74.200"/></g>
<text x="4.6" y="104.7" font-size="10.3" fill="#484b55" textLength="12.6" lengthAdjust="spacingAndGlyphs">BB</text>
<text x="19.5" y="104.7" font-size="10.3" fill="#6a6d77" textLength="59.5" lengthAdjust="spacingAndGlyphs">20 close 2 0</text>
<text x="87.1" y="104.7" font-size="10.3" fill="#e8934f" textLength="31.4" lengthAdjust="spacingAndGlyphs">1824.2</text>
<text x="125.1" y="104.7" font-size="10.3" fill="#5278d0" textLength="31.8" lengthAdjust="spacingAndGlyphs">1827.7</text>
<text x="163" y="104.7" font-size="10.3" fill="#5278d0" textLength="31.8" lengthAdjust="spacingAndGlyphs">1820.7</text>
<rect x="4.5" y="113" width="24.3" height="16.200" rx="2.5" fill="#fff" stroke="#d5d8df" stroke-width="1"/>
<path d="M13 122.800l3.600-3.600l3.600 3.600" fill="none" stroke="#2a2e39" stroke-width="1.6"/>
<text x="4.6" y="510.3" font-size="10.3" fill="#484b55" textLength="26.6" lengthAdjust="spacingAndGlyphs">Stoch</text>
<text x="35.8" y="510.3" font-size="10.3" fill="#70737d" textLength="28.5" lengthAdjust="spacingAndGlyphs">14 1 3</text>
<text x="72.0" y="510.3" font-size="10.3" fill="#4a74d6" textLength="26.5" lengthAdjust="spacingAndGlyphs">54.84</text>
<text x="104.5" y="510.3" font-size="10.3" fill="#e8934f" textLength="26.7" lengthAdjust="spacingAndGlyphs">45.16</text>
<circle cx="16.300" cy="655.200" r="13.700" fill="#fff" stroke="#eceef2" stroke-width="1"/>
<g fill="#16181f"><path d="M7.700 651.200h7.800v8.900h-3.500v-5.900h-4.300z"/><circle cx="17.800" cy="652.600" r="1.200"/><path d="M21.500 651.200h4.300l-3.500 8.900h-4z"/></g>
<circle cx="952.300" cy="658.400" r="12.500" fill="#9aa0b0" fill-opacity="0.35" filter="url(#sh)"/>
<circle cx="952.300" cy="657.800" r="12.200" fill="#fff" fill-opacity="0.93"/>
<path d="M948.600 653.600l4 4.200l-4 4.200M952.700 653.600l4 4.200l-4 4.200" fill="none" stroke="#3a3d47" stroke-width="1.400"/>
<g fill="none" stroke="#33363f" stroke-width="1.3"><circle cx="1002.100" cy="686.400" r="4.100"/><path d="M1006.40 686.40L1008.50 686.40M1005.14 689.44L1006.63 690.93M1002.10 690.70L1002.10 692.80M999.06 689.44L997.57 690.93M997.80 686.40L995.70 686.40M999.06 683.36L997.57 681.87M1002.10 682.10L1002.10 680.00M1005.14 683.36L1006.63 681.87" stroke-width="1.600"/></g>
</svg>
</body></html>
